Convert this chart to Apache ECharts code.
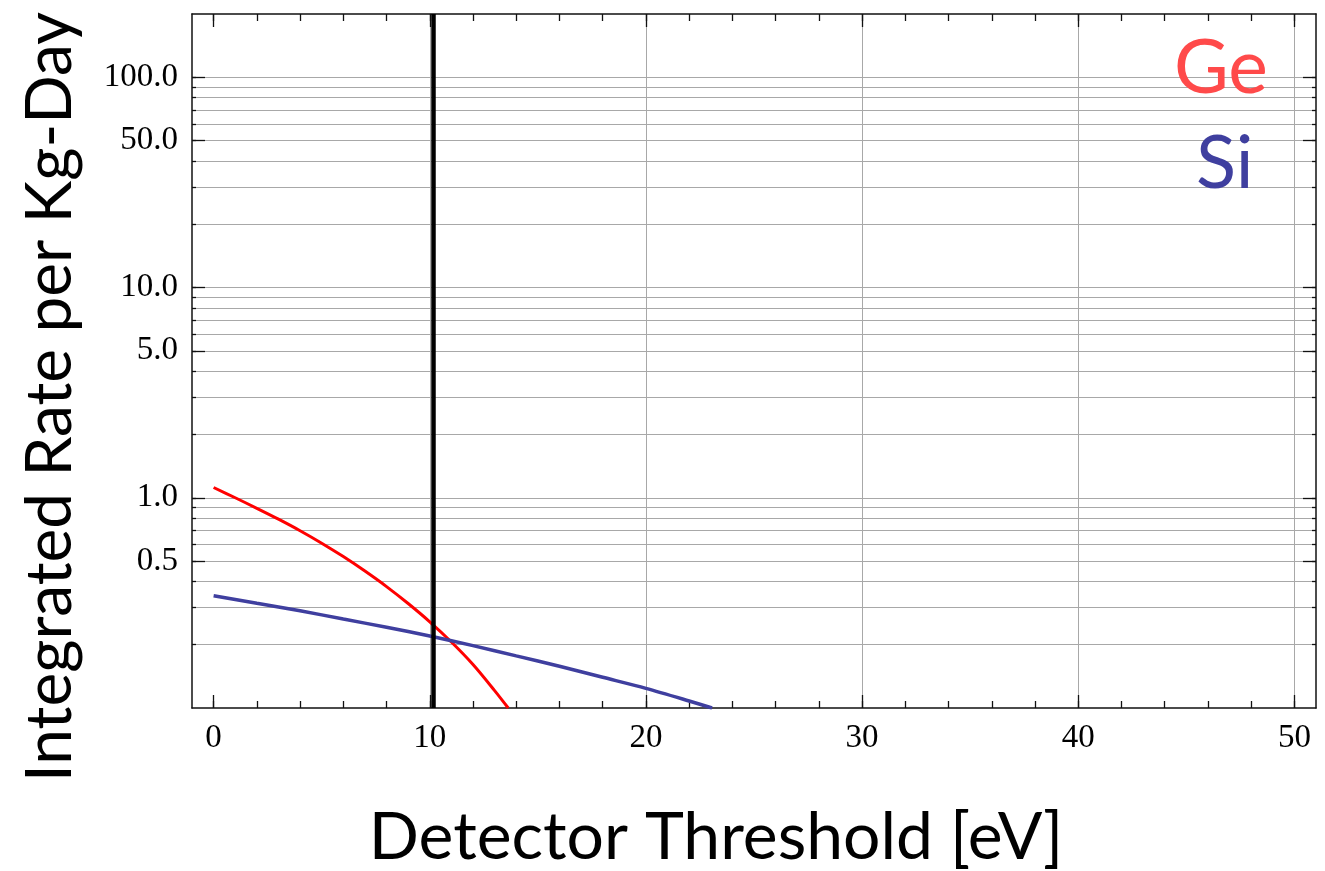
<!DOCTYPE html>
<html><head><meta charset="utf-8">
<script src="https://cdn.jsdelivr.net/npm/echarts@6/dist/echarts.min.js"></script>
<style>html,body{margin:0;padding:0;background:#fff}#c{width:1325px;height:871px}</style>
</head><body><div id="c"></div>
<script>
// ---- data ----
const geX = [0, 1, 2, 3, 4, 5, 6, 7, 8, 9, 10, 11, 12, 13, 13.63];
const geY = [1.119, 1.0, 0.891, 0.791, 0.697, 0.608, 0.525, 0.448, 0.378, 0.314, 0.257, 0.206, 0.161, 0.121, 0.1];
const siX = [0, 2, 4, 6, 8, 10, 12, 14, 16, 18, 20, 22, 23.06];
const siY = [0.342, 0.315, 0.290, 0.265, 0.242, 0.220, 0.198, 0.177, 0.158, 0.140, 0.124, 0.108, 0.1];
const threshold = 10.15;
const xLabelTicks = [0, 10, 20, 30, 40, 50];
const xMinorTicks = [0, 2, 4, 6, 8, 10, 12, 14, 16, 18, 20, 22, 24, 26, 28, 30, 32, 34, 36, 38, 40, 42, 44, 46, 48, 50];
const xGridValues = [10, 20, 30, 40, 50];
const yLabelTicks = [0.5, 1, 5, 10, 50, 100];
const yGridValues = [0.2, 0.3, 0.4, 0.5, 0.6, 0.7, 0.8, 0.9, 1, 2, 3, 4, 5, 6, 7, 8, 9, 10, 20, 30, 40, 50, 60, 70, 80, 90, 100];
const xRange = [-1, 51];
const yRange = [0.1, 200];

const chart = echarts.init(document.getElementById('c'));
const tickFont = { fontFamily: 'Liberation Serif', fontSize: 33, color: '#000' };
const frameLine = { show: true, onZero: false, lineStyle: { color: '#111', width: 1.5 } };
const noLine = { show: false, onZero: false };
const grid = { left: 192, width: 1124, top: 14, height: 694, containLabel: false, outerBoundsMode: 'none' };
const tickCol = '#111';

function xAx(pos, ticks, len, opts) {
  return Object.assign({
    type: 'value', position: pos, min: xRange[0], max: xRange[1], offset: 0,
    axisLine: noLine,
    axisTick: { show: len > 0, inside: true, length: len, customValues: ticks, lineStyle: { color: tickCol, width: 1.3 } },
    axisLabel: { show: false },
    splitLine: { show: false }
  }, opts || {});
}
function yAx(pos, ticks, len, opts) {
  return Object.assign({
    type: 'log', logBase: 10, position: pos, min: yRange[0], max: yRange[1], offset: 0,
    axisLine: noLine,
    axisTick: { show: len > 0, inside: true, length: len, customValues: ticks, lineStyle: { color: tickCol, width: 1.3 } },
    axisLabel: { show: false },
    splitLine: { show: false }
  }, opts || {});
}

const option = {
  backgroundColor: '#fff',
  animation: false,
  grid: grid,
  legend: [
    { data: [{ name: 'Ge', textStyle: { color: '#ff4a4a' } }], left: 1164, top: 26, icon: 'none', itemWidth: 0, itemHeight: 0,
      selectedMode: false, textStyle: { fontFamily: 'Lato', fontSize: 75 } },
    { data: [{ name: 'Si', textStyle: { color: '#3f3f9f' } }], left: 1186, top: 122, icon: 'none', itemWidth: 0, itemHeight: 0,
      selectedMode: false, textStyle: { fontFamily: 'Lato', fontSize: 74 } }
  ],
  xAxis: [
    xAx('bottom', xMinorTicks, 7, {
      axisLine: frameLine,
      axisLabel: { show: true, customValues: xLabelTicks, margin: 14, ...tickFont, formatter: v => String(Math.round(v)) }
    }),
    xAx('bottom', xLabelTicks, 13),
    xAx('bottom', xGridValues, 0, { splitLine: { show: true, lineStyle: { color: '#a8a8a8', width: 1 } } }),
    xAx('top', xMinorTicks, 7, { axisLine: frameLine }),
    xAx('top', xLabelTicks, 13)
  ],
  yAxis: [
    yAx('left', yGridValues, 4, {
      axisLine: frameLine,
      splitLine: { show: true, lineStyle: { color: '#a8a8a8', width: 1 } },
      axisLabel: { show: true, customValues: yLabelTicks, margin: 14, ...tickFont, formatter: v => Number(v).toFixed(1) }
    }),
    yAx('left', yLabelTicks, 13),
    yAx('right', yGridValues, 4, { axisLine: frameLine }),
    yAx('right', yLabelTicks, 13)
  ],
  graphic: [
    { type: 'text', x: 50, y: 397, rotation: Math.PI / 2,
      style: { text: 'Integrated Rate per Kg-Day', fontFamily: 'Lato', fontSize: 64, fill: '#000', align: 'center', verticalAlign: 'middle' } },
    { type: 'text', x: 716, y: 838,
      style: { text: 'Detector Threshold [eV]', fontFamily: 'Lato', fontSize: 66, fill: '#000', align: 'center', verticalAlign: 'middle' } }
  ],
  series: [
    { name: 'Ge', type: 'line', xAxisIndex: 0, yAxisIndex: 0, showSymbol: false, smooth: 0.3,
      data: geX.map((x, i) => [x, geY[i]]),
      lineStyle: { color: '#ff0000', width: 3 }, itemStyle: { color: '#ff0000' },
      markLine: { silent: true, symbol: 'none', label: { show: false }, animation: false,
        lineStyle: { color: '#000', width: 4.5, type: 'solid' }, data: [{ xAxis: threshold }] } },
    { name: 'Si', type: 'line', xAxisIndex: 0, yAxisIndex: 0, showSymbol: false, smooth: 0.3,
      data: siX.map((x, i) => [x, siY[i]]),
      lineStyle: { color: '#3f3f9f', width: 3.5 }, itemStyle: { color: '#3f3f9f' } }
  ]
};
chart.setOption(option);
</script></body></html>
